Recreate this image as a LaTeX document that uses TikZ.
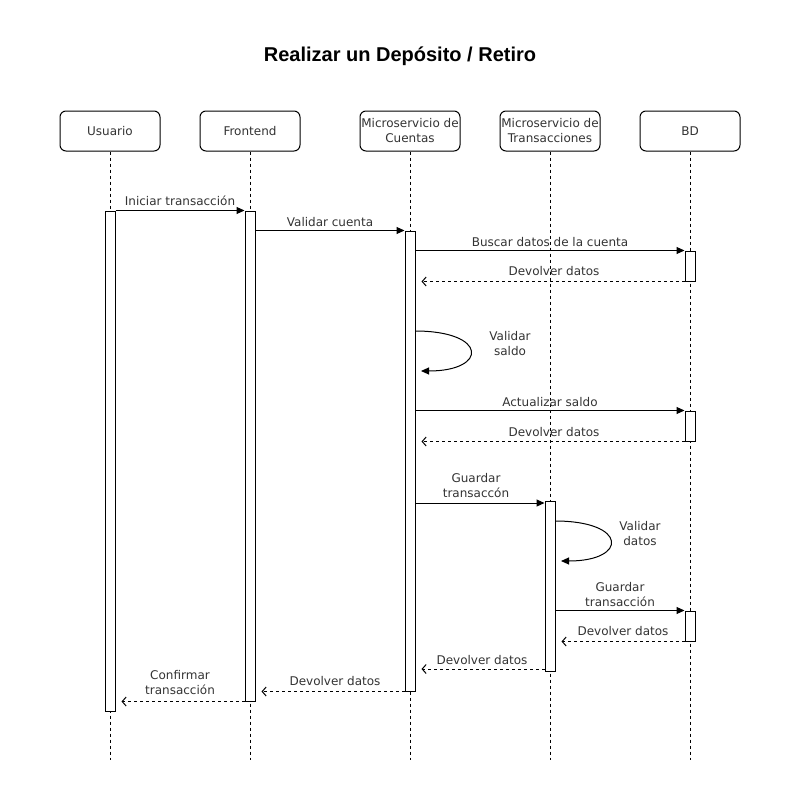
\documentclass[tikz,border=0pt]{standalone}
\usepackage{fontspec}
\setmainfont{DejaVu Sans}
\newfontfamily\titlefont{Liberation Sans}
\usetikzlibrary{arrows.meta}
\definecolor{txt}{HTML}{333333}
\tikzset{
  part/.style={draw, line width=1pt, rounded corners=6pt, minimum width=100pt, minimum height=40pt, inner sep=0pt, align=center, font=\fontsize{12}{15}\selectfont, text=txt, fill=white},
  act/.style={draw, line width=1pt, fill=white, minimum width=10pt, inner sep=0pt},
  life/.style={line width=1pt, dash pattern=on 3pt off 3pt},
  msg/.style={line width=1pt, -{Triangle[length=8pt,width=7pt]}},
  ret/.style={line width=1pt, dash pattern=on 3pt off 3pt, -{Straight Barb[length=4pt,width=9pt]}},
  lbl/.style={font=\fontsize{12}{15}\selectfont, text=txt, align=center, inner sep=0pt}
}
\begin{document}
\begin{tikzpicture}[x=1pt,y=-1pt]
\useasboundingbox (0,0) rectangle (800,800);
\node[font=\titlefont\bfseries\fontsize{20}{22}\selectfont] (title) at (400,56) {Realizar un Depósito / Retiro};
% participants
\node[part] (pU) at (110,131) {Usuario};
\node[part] (pF) at (250,131) {Frontend};
\node[part] (pC) at (410,131) {Microservicio de\\Cuentas};
\node[part] (pT) at (550,131) {Microservicio de\\Transacciones};
\node[part] (pB) at (690,131) {BD};
% lifeline ends
\coordinate (eU) at (110,760);
\coordinate (eF) at (250,760);
\coordinate (eC) at (410,760);
\coordinate (eT) at (550,760);
\coordinate (eB) at (690,760);
\draw[life] (pU.south) -- (eU);
\draw[life] (pF.south) -- (eF);
\draw[life] (pC.south) -- (eC);
\draw[life] (pT.south) -- (eT);
\draw[life] (pB.south) -- (eB);
% activations
\node[act, minimum height=500pt] (aU) at (110,461) {};
\node[act, minimum height=490pt] (aF) at (250,456) {};
\node[act, minimum height=460pt] (aC) at (410,461) {};
\node[act, minimum height=170pt] (aT) at (550,586) {};
\node[act, minimum height=30pt] (aB1) at (690,266) {};
\node[act, minimum height=30pt] (aB2) at (690,426) {};
\node[act, minimum height=30pt] (aB3) at (690,626) {};
% messages
\draw[msg] (aU.north east) -- (aF.north west);
\node[lbl] (l1) at (180,201) {Iniciar transacción};
\draw[msg] (aF.east |- aC.north) -- (aC.north west);
\node[lbl] (l2) at (330,222) {Validar cuenta};
\draw[msg] (aC.east |- aB1.north) -- (aB1.north west);
\node[lbl] (l3) at (550,242) {Buscar datos de la cuenta};
\draw[ret] (aB1.south west) -- ([xshift=6pt]aC.east |- aB1.south);
\node[lbl] (l4) at (554,271) {Devolver datos};
% self validar saldo
\coordinate (s1a) at (415,331);
\coordinate (s1b) at (421,371);
\draw[msg] (s1a) .. controls (488,331) and (488,371) .. (s1b);
\node[lbl] (l5) at (510,344) {Validar\\saldo};
\draw[msg] (aC.east |- aB2.north) -- (aB2.north west);
\node[lbl] (l6) at (550,402) {Actualizar saldo};
\draw[ret] (aB2.south west) -- ([xshift=6pt]aC.east |- aB2.south);
\node[lbl] (l7) at (554,432) {Devolver datos};
% guardar transaccon
\draw[msg] (aC.east |- 0,503) -- (aT.west |- 0,503);
\node[lbl] (l8) at (476,486) {Guardar\\transaccón};
% self validar datos
\coordinate (s2a) at (555,521);
\coordinate (s2b) at (561,561);
\draw[msg] (s2a) .. controls (628,521) and (628,561) .. (s2b);
\node[lbl] (l9) at (640,534) {Validar\\datos};
\draw[msg] (aT.east |- aB3.north) -- (aB3.north west);
\node[lbl] (l10) at (620,595) {Guardar\\transacción};
\draw[ret] (aB3.south west) -- ([xshift=6pt]aT.east |- aB3.south);
\node[lbl] (l11) at (623,631) {Devolver datos};
\draw[ret] (aT.west |- 0,669) -- ([xshift=6pt]aC.east |- 0,669);
\node[lbl] (l12) at (482,660) {Devolver datos};
\draw[ret] (aC.south west) -- ([xshift=6pt]aF.east |- aC.south);
\node[lbl] (l13) at (335,681) {Devolver datos};
\draw[ret] (aF.south west) -- ([xshift=6pt]aU.east |- aF.south);
\node[lbl] (l14) at (180,683) {Confirmar\\transacción};
\end{tikzpicture}
\end{document}
